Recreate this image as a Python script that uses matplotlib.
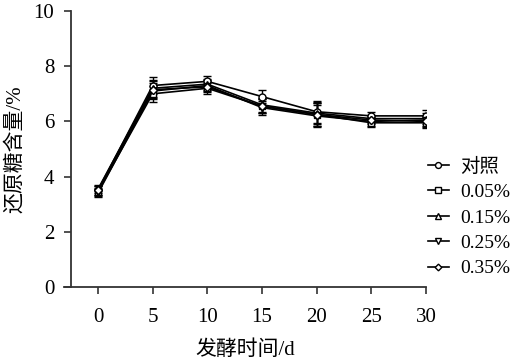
import numpy as np
import matplotlib
matplotlib.use("Agg")
import matplotlib.pyplot as plt

plt.rcParams['font.family'] = ['Liberation Serif', 'Noto Sans CJK SC']

days = [0, 5, 10, 15, 20, 25, 30]
labels = ["对照", "0.05%", "0.15%", "0.25%", "0.35%"]
ctrl = [3.5, 7.3, 7.45, 6.9, 6.35, 6.2, 6.2]
p005 = [3.45, 7.0, 7.2, 6.55, 6.25, 5.95, 5.95]
p015 = [3.55, 7.2, 7.35, 6.6, 6.3, 6.1, 6.1]
p025 = [3.4, 7.1, 7.3, 6.5, 6.2, 6.0, 6.05]
p035 = [3.5, 7.15, 7.25, 6.55, 6.25, 6.05, 6.0]
err = [0.15, 0.3, 0.2, 0.25, 0.4, 0.15, 0.2]
markers = ["o", "s", "^", "v", "D"]

fig = plt.figure(figsize=(5.16, 3.64), dpi=100)
ax = fig.add_axes([64/516, 1-287/364, (426-64)/516, (287-11)/364])

for vals, lab, m in zip([ctrl, p005, p015, p025, p035], labels, markers):
    ms = 4 if m == "D" else 5
    ax.errorbar(days, vals, yerr=err, color="black", lw=1.2, marker=m, ms=ms,
                mfc="white", mec="black", mew=1, capsize=3, elinewidth=1,
                label=lab)

ax.set_xlim(-3.11, 30)
ax.set_ylim(0, 10)
ax.set_xticks(days)
ax.set_yticks([0, 2, 4, 6, 8, 10])
ax.spines['top'].set_visible(False)
ax.spines['right'].set_visible(False)
ax.spines['left'].set_position(('data', -2.47))
for s in ['left', 'bottom']:
    ax.spines[s].set_linewidth(1.3)
    ax.spines[s].set_color('#333333')
ax.tick_params(direction='out', length=5, width=1.2, labelsize=15, color='#333333')
ax.tick_params(axis='x', pad=10)
ax.tick_params(axis='y', pad=7)
ax.set_xlabel("发酵时间/d", fontsize=15, labelpad=10)
ax.set_ylabel("还原糖含量/%", fontsize=15, labelpad=6)

h, l = ax.get_legend_handles_labels()
h = [x[0] for x in h]
fig.legend(h, l, loc='upper left', bbox_to_anchor=(418/516, 1-148/364), frameon=False,
           fontsize=14, handlelength=1.1, handletextpad=0.55, labelspacing=0.4,
           borderpad=0, markerscale=0.85)

fig.savefig("out.png", dpi=100)
